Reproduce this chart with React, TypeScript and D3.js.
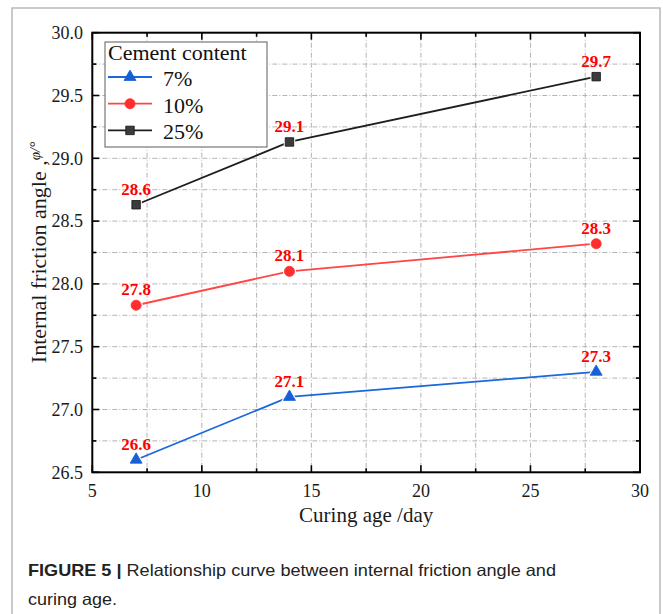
import React from 'react';
import * as d3 from 'd3';

// curing age (days) and internal friction angle (deg) per cement content
const days = [7, 14, 28];
const angle7 = [26.6, 27.1, 27.3];
const angle10 = [27.83, 28.1, 28.32];
const angle25 = [28.63, 29.13, 29.65];
const labels7 = ['26.6', '27.1', '27.3'];
const labels10 = ['27.8', '28.1', '28.3'];
const labels25 = ['28.6', '29.1', '29.7'];
const seriesNames = ['7%', '10%', '25%'];
const xTicks = [5, 10, 15, 20, 25, 30];
const yTicks = [26.5, 27.0, 27.5, 28.0, 28.5, 29.0, 29.5, 30.0];

const serif = '"Liberation Serif", "Times New Roman", serif';
const sans = '"Liberation Sans", Arial, sans-serif';

const series = [
  { name: seriesNames[0], values: angle7, labels: labels7, color: '#1a68dc', fill: '#1560d6', shape: d3.symbolTriangle, size: 62 },
  { name: seriesNames[1], values: angle10, labels: labels10, color: '#ff4545', fill: '#ff2e2e', shape: d3.symbolCircle, size: 80 },
  { name: seriesNames[2], values: angle25, labels: labels25, color: '#1e1e1e', fill: '#3c3c3c', shape: d3.symbolSquare, size: 72 },
];

const App = () => {
  const width = 663;
  const height = 614;
  const left = 92.3, right = 640, top = 32.7, bottom = 472.3;

  const x = d3.scaleLinear().domain([5, 30]).range([left, right]);
  const y = d3.scaleLinear().domain([26.5, 30]).range([bottom, top]);

  const xGrid = d3.range(5, 30.01, 2.5);
  const yGrid = d3.range(26.5, 30.01, 0.25);

  const line = d3.line<number>()
    .x((d, i) => x(days[i]))
    .y(d => y(d));

  const symbolPath = (shape: any, size: number) => d3.symbol().type(shape).size(size)() as string;

  const gridStyle = { stroke: '#b4b4b4', strokeWidth: 1, strokeDasharray: '5,2,1,2', fill: 'none' };

  return (
    <svg width={width} height={height} style={{ position: 'absolute', left: 0, top: 0, background: '#fff' }}>
      {/* outer figure frame */}
      <rect x={12} y={8} width={648} height={640} fill="none" stroke="#b8b8b8" strokeWidth={1.5} />

      {/* grid */}
      {xGrid.filter(v => v > 5 && v < 30).map(v => (
        <line key={'gx' + v} x1={x(v)} x2={x(v)} y1={top} y2={bottom} style={gridStyle} />
      ))}
      {yGrid.filter(v => v > 26.5 && v < 30).map(v => (
        <line key={'gy' + v} x1={left} x2={right} y1={y(v)} y2={y(v)} style={gridStyle} />
      ))}

      {/* ticks, inward on all four sides */}
      {xGrid.map((v, i) => {
        const len = i % 2 === 0 ? 7 : 4;
        return (
          <g key={'tx' + v} stroke="#000" strokeWidth={1.6}>
            <line x1={x(v)} x2={x(v)} y1={bottom} y2={bottom - len} />
            <line x1={x(v)} x2={x(v)} y1={top} y2={top + len} />
          </g>
        );
      })}
      {yGrid.map((v, i) => {
        const len = i % 2 === 0 ? 7 : 4;
        return (
          <g key={'ty' + v} stroke="#000" strokeWidth={1.6}>
            <line x1={left} x2={left + len} y1={y(v)} y2={y(v)} />
            <line x1={right} x2={right - len} y1={y(v)} y2={y(v)} />
          </g>
        );
      })}

      {/* frame */}
      <rect x={left} y={top} width={right - left} height={bottom - top} fill="none" stroke="#000" strokeWidth={2} />

      {/* tick labels */}
      {xTicks.map(v => (
        <text key={'lx' + v} x={x(v)} y={497} textAnchor="middle" fontFamily={serif} fontSize={18} fill="#1a1a1a">{v}</text>
      ))}
      {yTicks.map(v => (
        <text key={'ly' + v} x={83} y={y(v)} dy="0.35em" textAnchor="end" fontFamily={serif} fontSize={18} fill="#1a1a1a">{v.toFixed(1)}</text>
      ))}

      {/* axis titles */}
      <text x={(left + right) / 2} y={522} textAnchor="middle" fontFamily={serif} fontSize={21} fill="#1a1a1a">Curing age /day</text>
      <text transform={`translate(46,${(top + bottom) / 2}) rotate(-90)`} textAnchor="middle" fontFamily={serif} fontSize={22} fill="#1a1a1a">
        Internal friction angle ,<tspan fontStyle="italic" fontSize={15} dy={-6}>φ/°</tspan>
      </text>

      {/* series */}
      {series.map(s => (
        <g key={s.name}>
          <path d={line(s.values) as string} fill="none" stroke={s.color} strokeWidth={1.8} />
          {s.values.map((v, i) => (
            <g key={i} transform={`translate(${x(days[i])},${y(v)})`}>
              <path d={symbolPath(s.shape, s.size)} fill={s.fill} stroke="#fff" strokeWidth={3} />
              <path d={symbolPath(s.shape, s.size)} fill={s.fill} stroke={s.name === '25%' ? '#111' : s.fill} strokeWidth={0.8} />
            </g>
          ))}
          {s.values.map((v, i) => (
            <text key={'t' + i} x={x(days[i])} y={y(v) - 10} textAnchor="middle" fontFamily={serif} fontWeight="bold" fontSize={17} fill="#ff0000">{s.labels[i]}</text>
          ))}
        </g>
      ))}

      {/* legend */}
      <rect x={105} y={42} width={162} height={105} fill="#fff" stroke="#777" strokeWidth={1.2} />
      <text x={108} y={60} fontFamily={serif} fontSize={22} fill="#111">Cement content</text>
      {series.map((s, i) => {
        const ly = 77 + i * 26.7;
        return (
          <g key={'leg' + s.name}>
            <line x1={108} x2={152} y1={ly} y2={ly} stroke={s.color} strokeWidth={1.8} />
            <path transform={`translate(130,${ly})`} d={symbolPath(s.shape, s.size)} fill={s.fill} stroke={s.name === '25%' ? '#111' : s.fill} strokeWidth={0.8} />
            <text x={163} y={ly + 9} fontFamily={serif} fontSize={22} fill="#111">{s.name}</text>
          </g>
        );
      })}

      {/* caption */}
      <text x={28} y={576} fontFamily={sans} fontSize={16.5} fill="#222" textLength={528} lengthAdjust="spacingAndGlyphs">
        <tspan fontWeight="bold">FIGURE 5 | </tspan>Relationship curve between internal friction angle and
      </text>
      <text x={28} y={605} fontFamily={sans} fontSize={16.5} fill="#222" textLength={89} lengthAdjust="spacingAndGlyphs">curing age.</text>
    </svg>
  );
};

export default App;
